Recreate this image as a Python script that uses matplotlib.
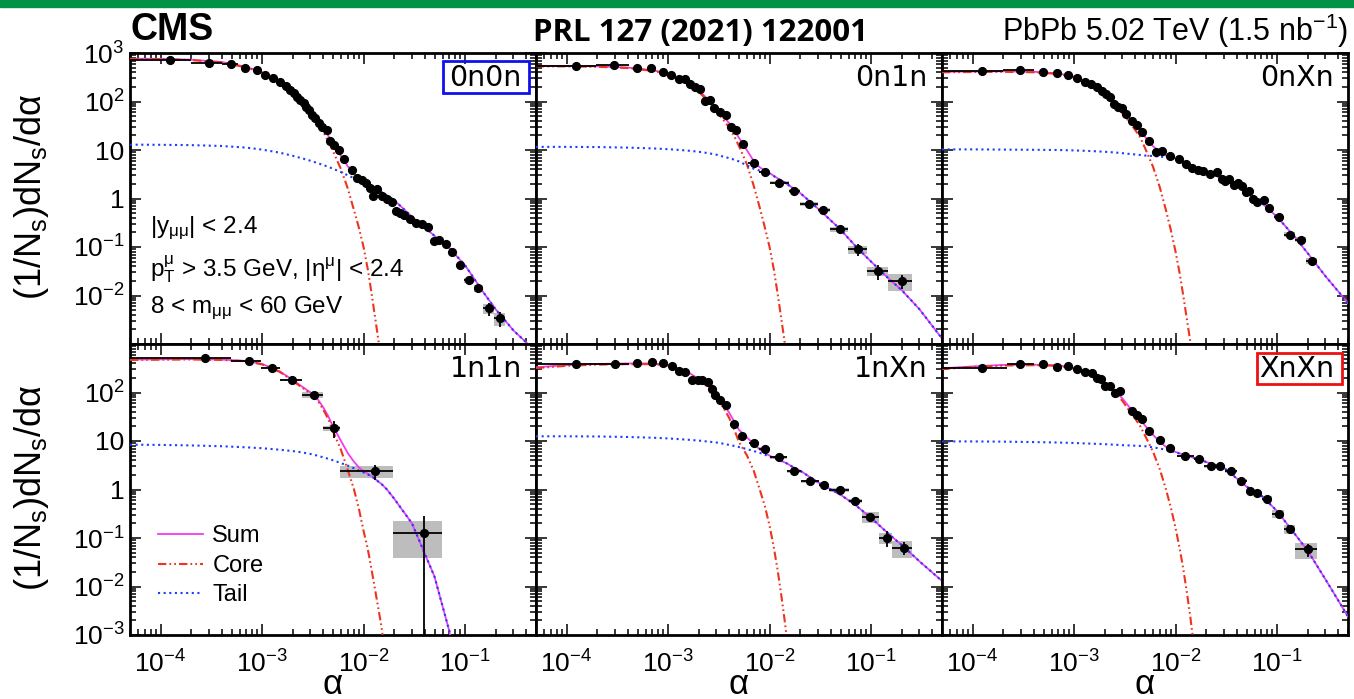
import numpy as np
import matplotlib
matplotlib.use("Agg")
import matplotlib.pyplot as plt
from matplotlib.patches import Rectangle
from matplotlib.lines import Line2D
from matplotlib.ticker import LogLocator, FuncFormatter, NullFormatter

plt.rcParams["font.family"] = ["Liberation Sans", "DejaVu Sans"]
plt.rcParams["mathtext.fontset"] = "custom"
plt.rcParams["mathtext.rm"] = "Liberation Sans"
plt.rcParams["mathtext.it"] = "Liberation Sans:italic"
plt.rcParams["mathtext.bf"] = "Liberation Sans:bold"

# ---------------------------------------------------------------------
# fit curves: alpha grid, core (up to 1.7e-2) and tail per class
# ---------------------------------------------------------------------
alpha_grid = [5e-5, 1e-4, 2e-4, 4e-4, 7e-4, 1e-3, 1.5e-3, 2e-3, 2.5e-3, 3e-3,
              3.5e-3, 4e-3, 4.5e-3, 5e-3, 6e-3, 7e-3, 8e-3, 9e-3, 1e-2, 1.1e-2,
              1.2e-2, 1.3e-2, 1.4e-2, 1.5e-2, 1.7e-2, 2e-2, 3e-2, 5e-2, 7e-2, 0.1,
              0.15, 0.2, 0.3, 0.5]

core_0n0n = [750, 745, 715, 640, 505, 390, 245, 145, 92, 58, 37, 24, 15, 9.5, 4.0,
             1.6, 0.6, 0.25, 0.1, 0.035, 0.011, 0.0035, 0.0012, 0.0004, 3e-5]
tail_0n0n = [12.9, 12.8, 12.6, 12.1, 11.2, 10.2, 8.8, 7.6, 6.7, 6.0, 5.4, 4.9, 4.5,
             4.1, 3.5, 3.0, 2.65, 2.35, 2.1, 1.9, 1.72, 1.58, 1.45, 1.35, 1.15,
             0.93, 0.42, 0.17, 0.095, 0.042, 0.012, 0.0052, 0.0019, 0.0007]

core_0n1n = [530, 530, 520, 490, 430, 370, 250, 160, 100, 62, 42, 29, 19, 12, 5,
             1.8, 0.65, 0.25, 0.1, 0.035, 0.011, 0.0035, 0.0012, 0.0004, 3e-5]
tail_0n1n = [11.6, 11.6, 11.5, 11.2, 10.8, 10.4, 9.8, 9.2, 8.6, 8.0, 7.3, 6.8, 6.3,
             5.8, 4.8, 4.1, 3.75, 3.5, 3.25, 2.9, 2.6, 2.35, 2.15, 1.95, 1.65,
             1.3, 0.62, 0.23, 0.105, 0.05, 0.022, 0.013, 0.0052, 0.0013]

core_0nXn = [400, 405, 410, 400, 370, 315, 215, 140, 83, 57, 38, 26, 18, 11, 4.5,
             1.7, 0.6, 0.22, 0.08, 0.028, 0.009, 0.003, 0.0011, 0.0004, 3e-5]
tail_0nXn = [10.3, 10.3, 10.2, 10.1, 10.0, 9.8, 9.5, 9.2, 8.9, 8.6, 8.3, 8.1, 7.9,
             7.7, 7.5, 7.3, 7.1, 6.9, 6.6, 6.0, 5.5, 5.1, 4.75, 4.45, 4.0,
             3.5, 2.5, 1.35, 0.82, 0.42, 0.16, 0.075, 0.025, 0.007]

core_1n1n = [470, 475, 480, 470, 440, 380, 265, 175, 125, 95, 70, 45, 28, 16, 6.5,
             2.5, 1.05, 0.4, 0.14, 0.06, 0.022, 0.0085, 0.0035, 0.0015, 2e-4]
tail_1n1n = [8.4, 8.3, 8.1, 7.8, 7.4, 7.1, 6.6, 6.2, 5.8, 5.4, 5.0, 4.6, 4.3,
             4.0, 3.5, 3.1, 2.75, 2.45, 2.25, 2.05, 1.85, 1.65, 1.45, 1.3, 1.0,
             0.65, 0.2, 0.016, 0.0012, 2e-5, 1e-8, 1e-11, 1e-15, 1e-20]

core_1nXn = [318, 355, 375, 385, 385, 360, 270, 180, 130, 76, 49, 30, 17, 9.5, 5.0,
             2.4, 1.0, 0.45, 0.18, 0.065, 0.022, 0.007, 0.0022, 0.0007, 5e-5]
tail_1nXn = [12.5, 12.5, 12.4, 12.1, 11.7, 11.3, 10.7, 10.2, 9.7, 9.3, 8.8, 8.3, 7.9,
             7.5, 6.8, 6.2, 5.7, 5.2, 4.8, 4.5, 4.2, 3.9, 3.65, 3.4, 2.9,
             2.45, 1.4, 0.78, 0.48, 0.26, 0.12, 0.072, 0.033, 0.013]

core_XnXn = [305, 335, 360, 365, 355, 310, 236, 151, 102, 67, 42, 29, 20, 13, 6,
             2.6, 1.05, 0.42, 0.16, 0.06, 0.021, 0.007, 0.0023, 0.0007, 5e-5]
tail_XnXn = [9.8, 9.8, 9.7, 9.5, 9.3, 9.1, 8.8, 8.6, 8.4, 8.2, 8.1, 8.0, 7.9,
             7.8, 7.4, 7.0, 6.6, 6.2, 5.8, 5.5, 5.2, 4.95, 4.7, 4.5, 4.2,
             3.7, 2.8, 1.15, 0.75, 0.36, 0.12, 0.055, 0.014, 0.0024]

# ---------------------------------------------------------------------
# measured points
# head_*  : bin edges of the first few points (wide low-alpha bins)
# edges_* : bin edges of the last points, stat_*/sys_* relative errors there
# ---------------------------------------------------------------------
a_0n0n = [1.24e-4, 2.98e-4, 4.89e-4, 6.86e-4, 8.93e-4, 1.06e-3, 1.28e-3, 1.51e-3,
          1.73e-3, 1.90e-3, 2.05e-3, 2.21e-3, 2.38e-3, 2.57e-3, 2.73e-3, 2.88e-3,
          3.10e-3, 3.35e-3, 3.61e-3, 3.89e-3, 4.35e-3, 4.70e-3, 5.14e-3, 5.67e-3,
          6.46e-3, 7.67e-3, 8.59e-3, 9.64e-3, 1.06e-2, 1.15e-2, 1.25e-2, 1.35e-2,
          1.51e-2, 1.70e-2, 1.90e-2, 2.09e-2, 2.30e-2, 2.51e-2, 2.88e-2, 3.30e-2,
          3.75e-2, 4.27e-2, 4.89e-2, 5.60e-2, 6.50e-2, 7.50e-2, 8.93e-2, 0.110,
          0.135, 0.173, 0.221]
y_0n0n = [708, 624, 586, 501, 442, 360, 308, 255, 208, 172, 147, 126, 108, 92, 76,
          67, 53, 45, 35.9, 29.7, 25.4, 15.1, 12.9, 10.2, 6.38, 3.80, 2.69, 2.41,
          2.13, 1.68, 1.10, 1.56, 1.10, 0.97, 0.857, 0.56, 0.494, 0.457, 0.378,
          0.308, 0.299, 0.256, 0.132, 0.141, 0.117, 0.0787, 0.0434, 0.0204, 0.0140,
          0.00546, 0.00341]
head_0n0n = [5e-5, 2.0e-4, 4.0e-4, 5.8e-4]
edges_0n0n = [0.098, 0.122, 0.150, 0.195, 0.250]
stat_0n0n = [0.2, 0.2, 0.3, 0.35]
sys_0n0n = [0.1, 0.15, 0.25, 0.3]

a_0n1n = [1.23e-4, 2.96e-4, 4.89e-4, 6.86e-4, 8.87e-4, 1.08e-3, 1.29e-3, 1.46e-3,
          1.66e-3, 1.86e-3, 2.07e-3, 2.30e-3, 2.61e-3, 2.86e-3, 3.22e-3, 3.71e-3,
          4.17e-3, 4.67e-3, 5.47e-3, 6.97e-3, 8.93e-3, 1.23e-2, 1.73e-2, 2.47e-2,
          3.40e-2, 4.89e-2, 7.50e-2, 0.118, 0.200]
y_0n1n = [542, 560, 501, 493, 409, 360, 294, 285, 229, 202, 184, 104, 108, 75, 60,
          53, 29.7, 26.2, 13.3, 5.46, 3.52, 2.13, 1.44, 0.767, 0.578, 0.236, 0.0894,
          0.0317, 0.0201]
head_0n1n = [5e-5, 1.93e-4, 4.1e-4]
edges_0n1n = [6.2e-3, 7.8e-3, 1.02e-2, 1.54e-2, 2.0e-2, 3.03e-2, 3.95e-2, 5.98e-2,
              9.06e-2, 0.148, 0.251]
stat_0n1n = [0.08, 0.08, 0.1, 0.1, 0.12, 0.1, 0.12, 0.28, 0.33, 0.31]
sys_0n1n = [0.06, 0.06, 0.08, 0.08, 0.1, 0.1, 0.12, 0.2, 0.22, 0.39]

a_0nXn = [1.24e-4, 2.94e-4, 4.95e-4, 6.86e-4, 8.79e-4, 1.08e-3, 1.28e-3, 1.48e-3,
          1.67e-3, 1.87e-3, 2.05e-3, 2.26e-3, 2.47e-3, 2.71e-3, 2.94e-3, 3.22e-3,
          3.69e-3, 4.20e-3, 4.70e-3, 5.47e-3, 6.35e-3, 7.40e-3, 8.79e-3, 1.08e-2,
          1.27e-2, 1.46e-2, 1.66e-2, 1.87e-2, 2.16e-2, 2.57e-2, 2.88e-2, 3.10e-2,
          3.35e-2, 3.75e-2, 4.13e-2, 4.53e-2, 4.99e-2, 5.26e-2, 5.77e-2, 6.35e-2,
          7.40e-2, 8.41e-2, 0.104, 0.133, 0.173, 0.221]
y_0nXn = [428, 456, 415, 378, 360, 308, 255, 229, 202, 164, 143, 126, 87.8, 76.2,
          72.8, 55.7, 38.8, 33.2, 23.1, 15.1, 9.0, 9.45, 7.47, 6.59, 5.05, 4.25,
          3.93, 3.68, 3.15, 3.57, 2.57, 2.30, 2.49, 1.88, 2.06, 1.82, 1.33, 1.44,
          0.97, 0.857, 0.94, 0.645, 0.409, 0.181, 0.141, 0.0515]
head_0nXn = [5e-5, 2.0e-4, 4.0e-4]
edges_0nXn = [0.094, 0.118, 0.150, 0.195, 0.250]
stat_0nXn = [0.1, 0.12, 0.15, 0.2]
sys_0nXn = [0.08, 0.1, 0.12, 0.15]

a_1n1n = [2.73e-4, 7.39e-4, 1.24e-3, 1.97e-3, 3.22e-3, 5.07e-3, 1.30e-2, 3.96e-2]
y_1n1n = [507, 448, 326, 182, 89.6, 18.5, 2.38, 0.129]
head_1n1n = []
edges_1n1n = [5e-5, 4.9e-4, 9.8e-4, 1.49e-3, 2.47e-3, 3.98e-3, 5.9e-3, 1.97e-2, 5.98e-2]
stat_1n1n = [0.02, 0.03, 0.05, 0.07, 0.1, 0.37, 0.35, 1.2]
sys_1n1n = [0.02, 0.03, 0.04, 0.06, 0.12, 0.12, 0.27, 0.7]

a_1nXn = [1.24e-4, 2.98e-4, 4.92e-4, 6.90e-4, 8.93e-4, 1.09e-3, 1.28e-3, 1.47e-3,
          1.71e-3, 1.97e-3, 2.18e-3, 2.47e-3, 2.69e-3, 2.90e-3, 3.22e-3, 3.75e-3,
          4.46e-3, 5.38e-3, 7.02e-3, 8.99e-3, 1.24e-2, 1.73e-2, 2.49e-2, 3.42e-2,
          4.99e-2, 7.02e-2, 9.84e-2, 0.142, 0.209]
y_1nXn = [388, 388, 401, 420, 401, 353, 283, 262, 182, 182, 182, 163, 119, 89.6,
          68.5, 55.8, 22.4, 12.9, 9.1, 6.95, 4.61, 2.38, 1.48, 1.23, 0.969, 0.575,
          0.274, 0.102, 0.0633]
head_1nXn = [5e-5, 2.0e-4, 4.1e-4]
edges_1nXn = [6.27e-3, 7.86e-3, 1.02e-2, 1.49e-2, 2.02e-2, 3.06e-2, 3.83e-2, 6.03e-2,
              8.15e-2, 0.119, 0.161, 0.253]
stat_1nXn = [0.08, 0.08, 0.1, 0.15, 0.15, 0.12, 0.12, 0.15, 0.15, 0.35, 0.3]
sys_1nXn = [0.05, 0.06, 0.06, 0.08, 0.08, 0.08, 0.1, 0.1, 0.26, 0.26, 0.4]

a_XnXn = [1.24e-4, 2.94e-4, 4.89e-4, 6.86e-4, 8.79e-4, 1.08e-3, 1.28e-3, 1.49e-3,
          1.67e-3, 1.83e-3, 2.02e-3, 2.26e-3, 2.53e-3, 2.83e-3, 3.69e-3, 4.20e-3,
          4.70e-3, 5.47e-3, 6.97e-3, 8.79e-3, 1.24e-2, 1.70e-2, 2.21e-2, 2.71e-2,
          3.48e-2, 4.46e-2, 5.47e-2, 6.35e-2, 7.98e-2, 0.104, 0.133, 0.200]
y_XnXn = [326, 382, 388, 337, 359, 306, 262, 250, 203, 188, 139, 133, 96.9, 108,
          42, 34.8, 28.8, 16.3, 10.6, 7.18, 5.0, 4.34, 3.02, 3.02, 2.38, 1.53,
          0.953, 0.828, 0.643, 0.316, 0.151, 0.0585]
head_XnXn = [5e-5, 2.2e-4, 4.0e-4]
edges_XnXn = [1.04e-2, 1.51e-2, 1.90e-2, 2.47e-2, 3.10e-2, 4.05e-2, 5.07e-2, 5.90e-2,
              7.10e-2, 8.90e-2, 0.116, 0.151, 0.247]
stat_XnXn = [0.06, 0.06, 0.08, 0.08, 0.08, 0.1, 0.1, 0.1, 0.1, 0.12, 0.2, 0.3]
sys_XnXn = [0.05, 0.05, 0.06, 0.06, 0.06, 0.08, 0.08, 0.1, 0.12, 0.2, 0.2, 0.37]

panels = [
    ("0n0n", a_0n0n, y_0n0n, head_0n0n, edges_0n0n, stat_0n0n, sys_0n0n, core_0n0n, tail_0n0n),
    ("0n1n", a_0n1n, y_0n1n, head_0n1n, edges_0n1n, stat_0n1n, sys_0n1n, core_0n1n, tail_0n1n),
    ("0nXn", a_0nXn, y_0nXn, head_0nXn, edges_0nXn, stat_0nXn, sys_0nXn, core_0nXn, tail_0nXn),
    ("1n1n", a_1n1n, y_1n1n, head_1n1n, edges_1n1n, stat_1n1n, sys_1n1n, core_1n1n, tail_1n1n),
    ("1nXn", a_1nXn, y_1nXn, head_1nXn, edges_1nXn, stat_1nXn, sys_1nXn, core_1nXn, tail_1nXn),
    ("XnXn", a_XnXn, y_XnXn, head_XnXn, edges_XnXn, stat_XnXn, sys_XnXn, core_XnXn, tail_XnXn),
]

C_SUM = "#f03cf0"
C_CORE = "#f0321e"
C_TAIL = "#1e3cff"
CORE_LS = (0, (4, 1.5, 0.8, 1.5, 0.8, 1.5))
TAIL_LS = (0, (1, 1.7))

W, H = 1354, 699
fig, axes = plt.subplots(2, 3, figsize=(W / 100, H / 100), dpi=100)
fig.subplots_adjust(left=130 / W, right=1348 / W, top=1 - 53 / H,
                    bottom=1 - 635 / H, wspace=0, hspace=0)


def xfmt(v, pos):
    return r"$10^{%d}$" % int(round(np.log10(v)))


def yfmt(v, pos):
    e = int(round(np.log10(v)))
    if e == 0:
        return "1"
    if e == 1:
        return "10"
    return r"$10^{%d}$" % e


grid = np.array(alpha_grid)
for k, (ax, p) in enumerate(zip(axes.flat, panels)):
    name, a, y, head, edges, stat, sysr, core, tail = p
    a = np.array(a)
    y = np.array(y)
    row, col = divmod(k, 3)

    ax.set_xscale("log")
    ax.set_yscale("log", nonpositive="clip")

    # fit components
    core_full = np.zeros(len(grid))
    core_full[:len(core)] = core
    tail = np.array(tail)
    ax.plot(grid, core_full + tail, color=C_SUM, lw=1.3, zorder=3)
    ax.plot(grid[:len(core)], core, color=C_CORE, lw=1.5, ls=CORE_LS, zorder=3)
    ax.plot(grid, tail, color=C_TAIL, lw=1.5, ls=TAIL_LS, zorder=3)

    # error bars
    xlo = np.zeros(len(a))
    xhi = np.zeros(len(a))
    ystat = np.zeros(len(a))
    if len(head):
        h = np.array(head)
        n = len(h) - 1
        xlo[:n] = a[:n] - h[:-1]
        xhi[:n] = h[1:] - a[:n]
    e = np.array(edges)
    m = len(e) - 1
    xlo[-m:] = a[-m:] - e[:-1]
    xhi[-m:] = e[1:] - a[-m:]
    ystat[-m:] = y[-m:] * np.array(stat)
    for lo, hi, yy, s in zip(e[:-1], e[1:], y[-m:], sysr):
        ax.add_patch(Rectangle((lo, yy * (1 - s)), hi - lo, 2 * yy * s,
                               fc="#bdbdbd", ec="none", zorder=2))
    ax.errorbar(a, y, xerr=[xlo, xhi], yerr=ystat, fmt="o", color="black",
                ms=5.6, elinewidth=1.3, capsize=0, zorder=5)

    ax.set_xlim(5e-5, 0.5)
    ax.set_ylim(1e-3, 1e3)

    # ticks: the shared row edge (1e-3 on top row, 1e3 on bottom row) is unlabeled
    ymajor = [1e-2, 1e-1, 1, 10, 1e2, 1e3] if row == 0 else [1e-3, 1e-2, 1e-1, 1, 10, 1e2]
    ax.xaxis.set_major_locator(LogLocator(base=10, numticks=20))
    ax.yaxis.set_major_locator(plt.FixedLocator(ymajor))
    for axis in (ax.xaxis, ax.yaxis):
        axis.set_minor_locator(LogLocator(base=10, subs=np.arange(2, 10), numticks=20))
        axis.set_minor_formatter(NullFormatter())
    ax.xaxis.set_major_formatter(FuncFormatter(xfmt))
    ax.yaxis.set_major_formatter(FuncFormatter(yfmt))
    ax.tick_params(which="both", direction="in", top=True, right=True, width=1.1)
    ax.tick_params(which="major", length=8)
    ax.tick_params(which="minor", length=4)
    ax.tick_params(axis="x", labelsize=19, pad=11, labelbottom=(row == 1))
    ax.tick_params(axis="y", labelsize=19, pad=4, labelleft=(col == 0))
    for sp in ax.spines.values():
        sp.set_linewidth(2.0)

    ax.text(0.965, 0.915, name, transform=ax.transAxes, ha="right", va="center",
            fontsize=20.5, family="DejaVu Sans", zorder=7)

# boxes around the two extreme classes
axes[0, 0].add_patch(Rectangle((0.771, 0.862), 0.212, 0.110, transform=axes[0, 0].transAxes,
                               fill=False, ec="#1010ee", lw=2.0, zorder=8))
axes[1, 2].add_patch(Rectangle((0.776, 0.863), 0.209, 0.106, transform=axes[1, 2].transAxes,
                               fill=False, ec="#ee1010", lw=2.0, zorder=8))

# selection text
ax0 = axes[0, 0]
ax0.text(0.05, 0.398, r"|y$_{\mathrm{μμ}}$| < 2.4", transform=ax0.transAxes,
         fontsize=17.5, va="center")
ax0.text(0.05, 0.256, r"p$_{\mathrm{T}}^{\mathrm{μ}}$ > 3.5 GeV, |η$^{\mathrm{μ}}$| < 2.4",
         transform=ax0.transAxes, fontsize=17.5, va="center")
ax0.text(0.05, 0.121, r"8 < m$_{\mathrm{μμ}}$ < 60 GeV", transform=ax0.transAxes,
         fontsize=17.5, va="center")

# legend
handles = [Line2D([], [], color=C_SUM, lw=1.3),
           Line2D([], [], color=C_CORE, lw=1.5, ls=CORE_LS),
           Line2D([], [], color=C_TAIL, lw=1.5, ls=TAIL_LS)]
axes[1, 0].legend(handles, ["Sum", "Core", "Tail"], loc="upper left",
                  bbox_to_anchor=(0.069, 0.377), frameon=False, fontsize=17,
                  handlelength=1.9, handletextpad=0.4, labelspacing=0.32,
                  borderpad=0, borderaxespad=0)

# axis titles
ylab = r"(1/N$_{\mathrm{s}}$)dN$_{\mathrm{s}}$/dα"
fig.text(32 / W, 1 - 197 / H, ylab, rotation=90, ha="center", va="center", fontsize=26)
fig.text(32 / W, 1 - 488 / H, ylab, rotation=90, ha="center", va="center", fontsize=26)
for c in range(3):
    xc = (130 + 406 * (c + 0.5)) / W
    fig.text(xc, 1 - 684 / H, "α", ha="center", va="center", fontsize=25)

# header
fig.add_artist(Rectangle((0, 1 - 7 / H), 1, 7 / H, transform=fig.transFigure,
                         color="#009245", zorder=10))
fig.text(130 / W, 1 - 40 / H, "CMS", fontsize=27, fontweight="bold",
         ha="left", va="baseline")
fig.text(700 / W, 1 - 41 / H, "PRL 127 (2021) 122001", fontsize=22.5, fontweight="bold",
         family="Open Sans", ha="center", va="baseline")
fig.text(1348 / W, 1 - 41 / H, r"PbPb 5.02 TeV (1.5 nb$^{-1}$)", fontsize=22,
         ha="right", va="baseline")

fig.savefig("out.png", dpi=100)
